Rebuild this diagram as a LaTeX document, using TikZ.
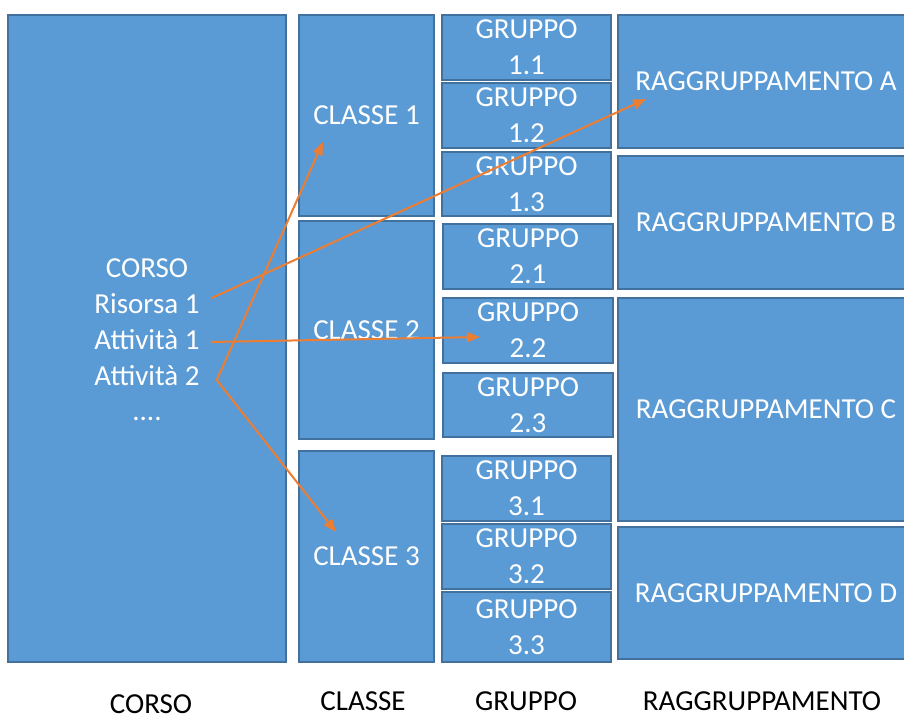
\documentclass[tikz,border=0pt]{standalone}
\usepackage{fontspec}
\setmainfont{Carlito}
\usetikzlibrary{arrows.meta}

\definecolor{boxblue}{RGB}{91,155,213}
\definecolor{boxline}{RGB}{65,113,156}
\definecolor{linkorange}{RGB}{237,125,49}

\tikzset{
  cell/.style={draw=boxline, fill=boxblue, line width=1.5pt, text=white,
    inner sep=0pt, align=center, font=\fontsize{29}{36}\selectfont},
  caption/.style={anchor=base, inner sep=0pt, font=\fontsize{29}{36}\selectfont},
  entry/.style={caption, text=white, text height=19pt, text depth=0pt},
  link/.style={draw=linkorange, line width=2pt, -{Triangle[length=13pt,width=10pt]}},
}

\begin{document}
\begin{tikzpicture}[x=1pt,y=-1pt]
\useasboundingbox (0,0) rectangle (904,715);

% CORSO column
\node[cell, minimum width=278pt, minimum height=647pt] (corso) at (147,338.5) {};

% CLASSE column
\node[cell, minimum width=135pt, minimum height=201pt] (classe1) at (366.5,115.5) {CLASSE 1};
\node[cell, minimum width=135pt, minimum height=218pt] (classe2) at (366.5,330) {CLASSE 2};
\node[cell, minimum width=135pt, minimum height=211pt] (classe3) at (366.5,556.5) {CLASSE 3};

% GRUPPO column
\node[cell, minimum width=169pt, minimum height=65pt] (g11) at (526.5,47.5) {GRUPPO\\1.1};
\node[cell, minimum width=169pt, minimum height=65pt] (g12) at (526.5,115.5) {GRUPPO\\1.2};
\node[cell, minimum width=169pt, minimum height=64pt] (g13) at (526.5,184) {GRUPPO\\1.3};
\node[cell, minimum width=170pt, minimum height=65pt] (g21) at (528,256.5) {GRUPPO\\2.1};
\node[cell, minimum width=170pt, minimum height=65pt] (g22) at (528,330.5) {GRUPPO\\2.2};
\node[cell, minimum width=170pt, minimum height=64pt] (g23) at (528,405) {GRUPPO\\2.3};
\node[cell, minimum width=169pt, minimum height=65pt] (g31) at (526.5,488.5) {GRUPPO\\3.1};
\node[cell, minimum width=169pt, minimum height=65pt] (g32) at (526.5,556.5) {GRUPPO\\3.2};
\node[cell, minimum width=169pt, minimum height=70pt] (g33) at (526.5,627) {GRUPPO\\3.3};

% RAGGRUPPAMENTO column
\node[cell, minimum width=296pt, minimum height=133pt] (ragA) at (766,81.5) {RAGGRUPPAMENTO A};
\node[cell, minimum width=296pt, minimum height=133pt] (ragB) at (766,222.5) {RAGGRUPPAMENTO B};
\node[cell, minimum width=296pt, minimum height=223pt] (ragC) at (766,409.5) {RAGGRUPPAMENTO C};
\node[cell, minimum width=296pt, minimum height=132pt] (ragD) at (766,593) {RAGGRUPPAMENTO D};

% Text Node
\node[entry] (title) at (147,277) {CORSO};
\node[entry] (risorsa) at (147,313) {Risorsa 1};
\node[entry] (att1) at (147,349) {Attività 1};
\node[entry] (att2) at (147,385) {Attività 2};
\node[entry] (dots) at (147,420) {....};

% arrow ends
\coordinate (tipA) at (646,99);
\coordinate (tip22) at (480,337);
\coordinate (tipC1) at (323,142);
\coordinate (tipC3) at (336,532);

\draw[link] ([xshift=12pt,yshift=5.5pt]risorsa.east) -- (tipA);
\draw[link] ([xshift=11pt,yshift=-2.5pt]att1.east) -- (tip22);
\draw[link] ([xshift=17pt,yshift=-4.5pt]att2.east) -- (tipC1);
\draw[link] ([xshift=17pt,yshift=-4.5pt]att2.east) -- (tipC3);

% Text Node
\node[caption] (lcorso) at (151,713) {CORSO};
\node[caption] (lclasse) at (363,710) {CLASSE};
\node[caption] (lgruppo) at (526,710) {GRUPPO};
\node[caption] (lrag) at (762,710) {RAGGRUPPAMENTO};

\end{tikzpicture}
\end{document}
